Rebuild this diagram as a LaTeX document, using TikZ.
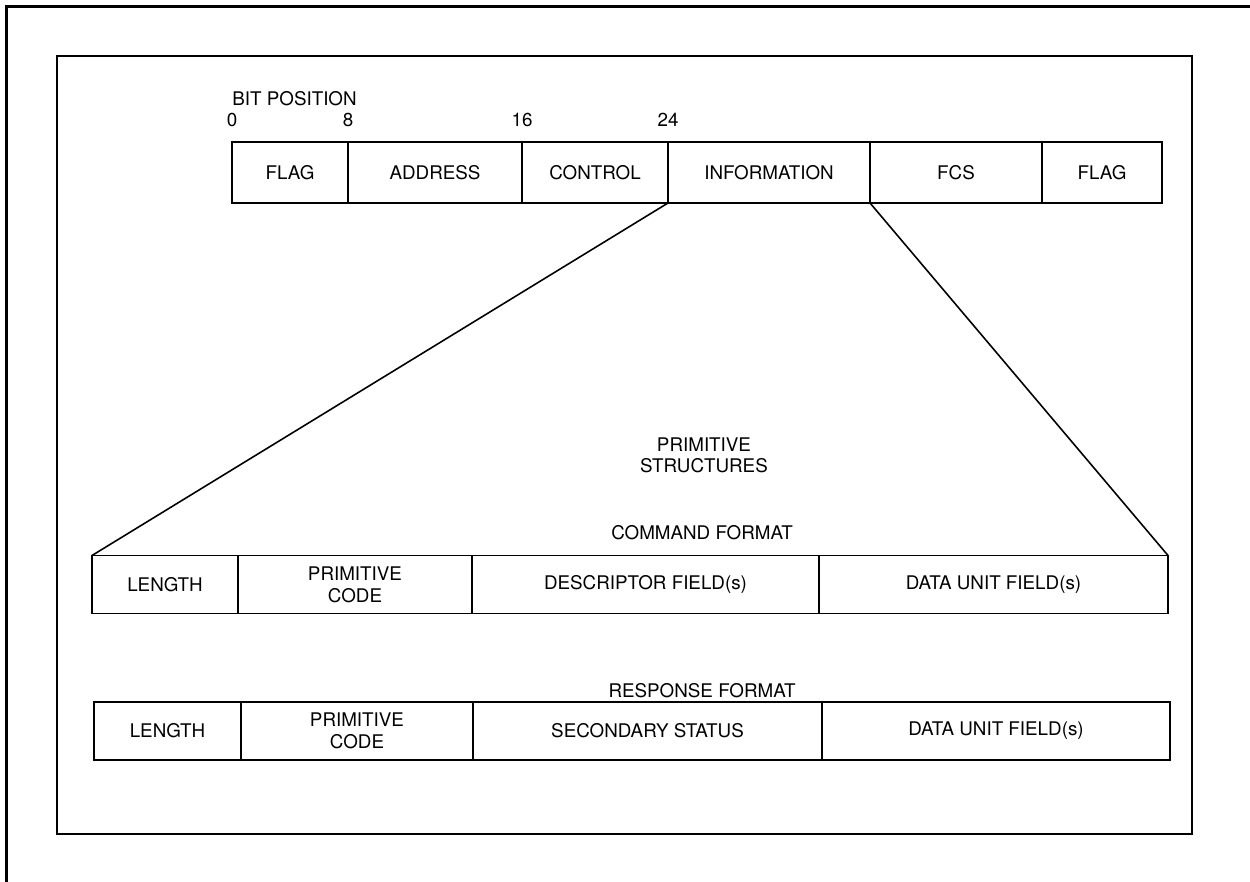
\documentclass[tikz,border=0pt]{standalone}
\usepackage{fontspec}
\setmainfont{TeX Gyre Heros}
\usetikzlibrary{positioning}

\begin{document}
\begin{tikzpicture}[
  field/.style={draw, line width=0.9pt, outer sep=0pt, inner sep=0pt,
    minimum height=1.16cm, align=center,
    font=\fontsize{10.7}{12.5}\selectfont},
  heading/.style={inner sep=0pt, align=center,
    font=\fontsize{10.7}{12}\selectfont},
  num/.style={inner sep=0pt, font=\fontsize{10.7}{12}\selectfont}]

\useasboundingbox (0,0) rectangle (25,17.64);

% page frame (runs off the right and bottom)
\draw[line width=1.4pt] (0.13,0) -- (0.13,17.51) -- (25,17.51);
% inner frame
\draw[line width=0.9pt] (1.14,0.96) rectangle (23.84,16.52);

% --- Frame format ---
\node[heading, anchor=west] (bitpos) at (4.64,15.66) {BIT POSITION};

\node[field, minimum height=1.22cm, minimum width=2.32cm, anchor=west]
  (flagl) at (4.64,14.19) {FLAG};
\node[field, minimum height=1.22cm, minimum width=3.48cm, right=0pt of flagl]
  (addr) {ADDRESS};
\node[field, minimum height=1.22cm, minimum width=2.92cm, right=0pt of addr]
  (ctrl) {CONTROL};
\node[field, minimum height=1.22cm, minimum width=4.04cm, right=0pt of ctrl]
  (info) {INFORMATION};
\node[field, minimum height=1.22cm, minimum width=3.44cm, right=0pt of info]
  (fcs) {FCS};
\node[field, minimum height=1.22cm, minimum width=2.40cm, right=0pt of fcs]
  (flagr) {FLAG};

% bit numbers over the field borders
\node[num, above=0.3cm of flagl.north west] (b0) {0};
\node[num, above=0.3cm of addr.north west] (b8) {8};
\node[num, above=0.3cm of ctrl.north west] (b16) {16};
\node[num, above=0.3cm of info.north west] (b24) {24};

% --- Primitive structures ---
\node[heading] (prim) at (14.08,8.54) {PRIMITIVE\\STRUCTURES};

% command format
\node[heading] (cmdfmt) at (14.04,6.98) {COMMAND FORMAT};
\node[field, minimum width=2.92cm, anchor=west] (clen) at (1.84,5.95) {LENGTH};
\node[field, minimum width=4.68cm, right=0pt of clen] (ccode) {PRIMITIVE\\CODE};
\node[field, minimum width=6.94cm, right=0pt of ccode] (cdesc) {DESCRIPTOR FIELD(s)};
\node[field, minimum width=6.98cm, right=0pt of cdesc] (cdata) {DATA UNIT FIELD(s)};

% response format
\node[heading] (rspfmt) at (14.04,3.82) {RESPONSE FORMAT};
\node[field, minimum width=2.94cm, anchor=west] (rlen) at (1.88,3.02) {LENGTH};
\node[field, minimum width=4.64cm, right=0pt of rlen] (rcode) {PRIMITIVE\\CODE};
\node[field, minimum width=6.98cm, right=0pt of rcode] (rstat) {SECONDARY STATUS};
\node[field, minimum width=6.96cm, right=0pt of rstat] (rdata) {DATA UNIT FIELD(s)};

% information field opens out into the command
\draw[line width=0.9pt] (info.south west) -- (clen.north west);
\draw[line width=0.9pt] (info.south east) -- (cdata.north east);

\end{tikzpicture}
\end{document}
